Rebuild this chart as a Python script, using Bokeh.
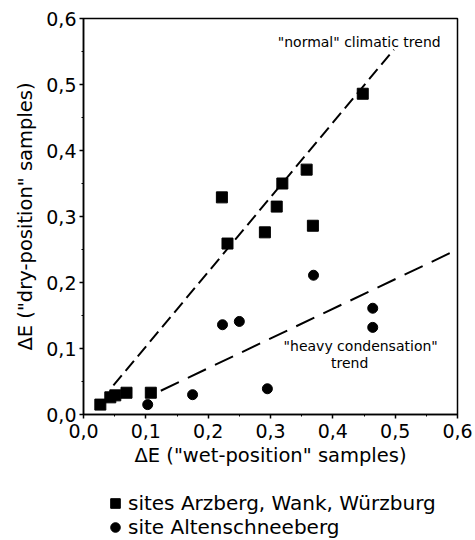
from bokeh.plotting import figure
from bokeh.layouts import column
from bokeh.models import (FixedTicker, CustomJSTickFormatter, Legend, LegendItem,
                          Label, Range1d)
from bokeh.embed import file_html
from bokeh.resources import INLINE

# --- data ---
sq_x = [0.448, 0.358, 0.319, 0.222, 0.310, 0.368, 0.291, 0.231, 0.108, 0.069, 0.051, 0.043, 0.027]
sq_y = [0.486, 0.371, 0.350, 0.329, 0.315, 0.286, 0.276, 0.259, 0.033, 0.033, 0.029, 0.026, 0.015]

ci_x = [0.369, 0.464, 0.464, 0.223, 0.250, 0.295, 0.175, 0.103]
ci_y = [0.211, 0.161, 0.132, 0.136, 0.141, 0.039, 0.030, 0.015]

normal_x = [0.048, 0.498]
normal_y = [0.044, 0.553]
heavy_x = [0.124, 0.600]
heavy_y = [0.036, 0.250]

ticks = [0.0, 0.1, 0.2, 0.3, 0.4, 0.5, 0.6]
minor = [0.05, 0.15, 0.25, 0.35, 0.45, 0.55]

series_labels = ["sites Arzberg, Wank, Würzburg", "site Altenschneeberg"]

FONT = "DejaVu Sans"

p = figure(width=475, height=490, output_backend="svg", toolbar_location=None,
           x_range=Range1d(0, 0.6), y_range=Range1d(0, 0.6),
           min_border_left=83, min_border_right=18, min_border_top=18,
           min_border_bottom=76)
p.background_fill_color = "white"
p.border_fill_color = "white"
p.outline_line_color = "black"
p.outline_line_width = 1.5
p.xgrid.visible = False
p.ygrid.visible = False

fmt = CustomJSTickFormatter(code="return tick.toFixed(1).replace('.', ',');")
for ax in (p.xaxis[0], p.yaxis[0]):
    ax.ticker = FixedTicker(ticks=ticks, minor_ticks=minor)
    ax.formatter = fmt
    ax.axis_line_color = "black"
    ax.axis_line_width = 1.5
    ax.major_tick_line_color = "black"
    ax.major_tick_line_width = 1.5
    ax.major_tick_in = 0
    ax.major_tick_out = 4
    ax.minor_tick_line_color = "black"
    ax.minor_tick_in = 0
    ax.minor_tick_out = 2
    ax.major_label_text_font = FONT
    ax.major_label_text_font_size = "19px"
    ax.major_label_text_color = "black"
    ax.axis_label_text_font = FONT
    ax.axis_label_text_font_size = "19.5px"
    ax.axis_label_text_font_style = "normal"
    ax.axis_label_text_color = "black"

p.xaxis.axis_label = 'ΔE ("wet-position" samples)'
p.yaxis.axis_label = 'ΔE ("dry-position" samples)'
p.xaxis.major_label_standoff = 5
p.yaxis.major_label_standoff = 3
p.xaxis.axis_label_standoff = 3
p.yaxis.axis_label_standoff = 6

# trend lines
p.line(normal_x, normal_y, line_color="black", line_width=2, line_dash="13 6")
p.line(heavy_x, heavy_y, line_color="black", line_width=2, line_dash="20 10")

# points
p.scatter(sq_x, sq_y, marker="square", size=11, fill_color="black", line_color="black")
p.scatter(ci_x, ci_y, marker="circle", size=10, fill_color="black", line_color="black")

# annotations
p.add_layout(Label(x=0.573, y=0.564, text='"normal" climatic trend', text_align="right",
                   text_baseline="middle", text_font=FONT, text_font_size="14px",
                   text_color="black"))
p.add_layout(Label(x=0.321, y=0.104, text='"heavy condensation"', text_align="left",
                   text_baseline="middle", text_font=FONT, text_font_size="14px",
                   text_color="black"))
p.add_layout(Label(x=0.427, y=0.078, text='trend', text_align="center",
                   text_baseline="middle", text_font=FONT, text_font_size="14px",
                   text_color="black"))

# legend strip below the plot (its frame is aligned with the main frame);
# the legend-key glyphs sit outside this strip's visible range
leg = figure(width=475, height=50, output_backend="svg", toolbar_location=None,
             x_axis_type=None, y_axis_type=None, x_range=Range1d(2, 3), y_range=Range1d(2, 3),
             min_border=0, min_border_left=83, min_border_right=18, min_border_top=0,
             min_border_bottom=0)
leg.outline_line_color = None
leg.background_fill_color = "white"
leg.border_fill_color = "white"
leg.xgrid.visible = False
leg.ygrid.visible = False
l_sq = leg.scatter(sq_x[:1], sq_y[:1], marker="square", size=11,
                   fill_color="black", line_color="black")
l_ci = leg.scatter(ci_x[:1], ci_y[:1], marker="circle", size=10,
                   fill_color="black", line_color="black")

legend = Legend(items=[LegendItem(label=series_labels[0], renderers=[l_sq]),
                       LegendItem(label=series_labels[1], renderers=[l_ci])],
                location=(20, 1), orientation="vertical",
                label_text_font=FONT, label_text_font_size="20px", label_text_color="black",
                glyph_width=24, glyph_height=24, label_height=24, label_standoff=1,
                spacing=0, padding=0, margin=0,
                border_line_color=None, background_fill_alpha=0)
leg.add_layout(legend, "center")

layout = column(p, leg, spacing=0)
open("out.html", "w").write(file_html(layout, INLINE))
